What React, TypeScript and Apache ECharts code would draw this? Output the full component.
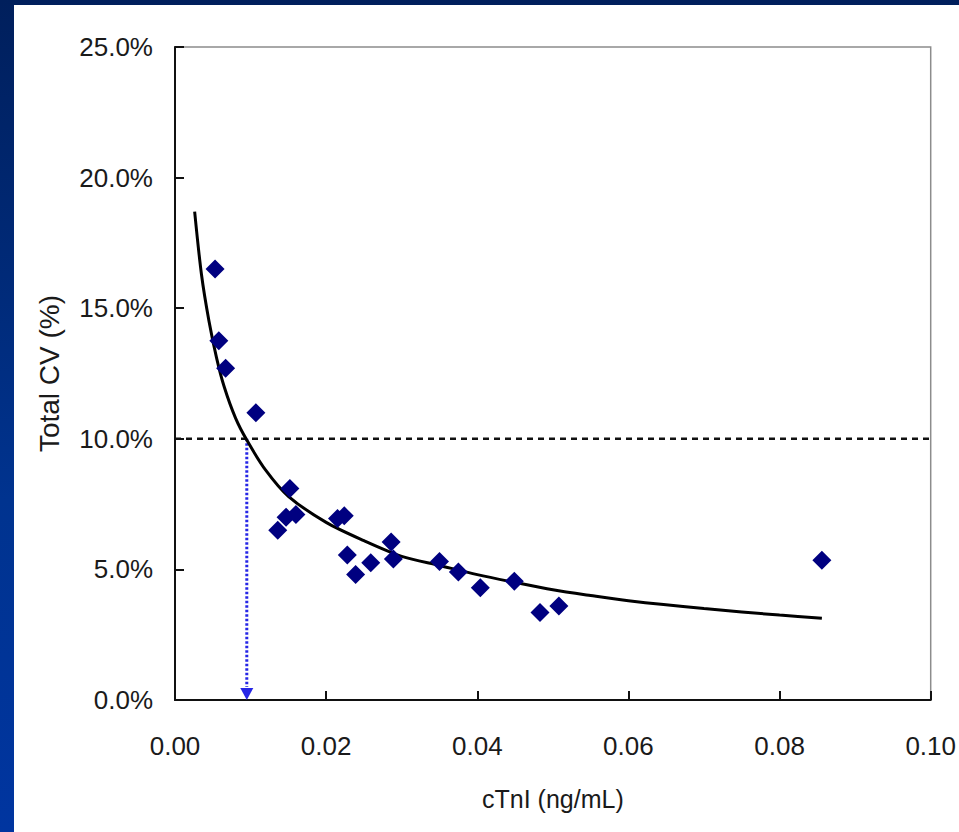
import React, { useEffect, useRef } from "react";
import * as echarts from "echarts";

const xTicks = [0, 0.02, 0.04, 0.06, 0.08, 0.1];
const yTicks = [0, 5, 10, 15, 20, 25];

// measured points: cTnI (ng/mL) vs total CV (%)
const pointX = [0.0053, 0.0058, 0.0067, 0.0107, 0.0152, 0.0136, 0.0147, 0.016, 0.0215, 0.0224, 0.0228, 0.0239, 0.0259, 0.0286, 0.0289, 0.035, 0.0375, 0.0404, 0.0449, 0.0483, 0.0508, 0.0856];
const pointY = [16.5, 13.75, 12.7, 11.0, 8.1, 6.5, 7.0, 7.1, 6.95, 7.05, 5.55, 4.8, 5.25, 6.05, 5.4, 5.3, 4.9, 4.3, 4.55, 3.35, 3.6, 5.35];

// fitted curve
const curveX = [0.0026, 0.0035, 0.0045, 0.0055, 0.0065, 0.008, 0.0095, 0.012, 0.015, 0.02, 0.025, 0.03, 0.035, 0.04, 0.045, 0.05, 0.055, 0.06, 0.07, 0.08, 0.0856];
const curveY = [18.7, 16.3, 14.5, 13.1, 12.0, 10.8, 9.95, 8.8, 7.8, 6.8, 6.1, 5.5, 5.15, 4.8, 4.5, 4.22, 4.0, 3.8, 3.5, 3.25, 3.13];

const cvLimit = 10;
const lodX = 0.0095;

const FONT = "'Liberation Sans', Arial, sans-serif";

export default function App() {
  const ref = useRef<HTMLDivElement>(null);
  useEffect(() => {
    document.body.style.margin = "0";
    const chart = echarts.init(ref.current!, null, { renderer: "svg" });
    chart.setOption({
      animation: false,
      backgroundColor: "transparent",
      grid: { left: 175, right: 24, top: 47, bottom: 132, show: true, borderColor: "#8c8c8c", borderWidth: 1.5 },
      xAxis: {
        type: "value",
        min: xTicks[0],
        max: xTicks[xTicks.length - 1],
        interval: 0.02,
        name: "cTnI (ng/mL)",
        nameLocation: "middle",
        nameGap: 86,
        nameTextStyle: { fontFamily: FONT, fontSize: 25, color: "#1a1a1a" },
        axisLine: { onZero: false, lineStyle: { color: "#111", width: 2 } },
        axisTick: { inside: true, length: 9, lineStyle: { color: "#111", width: 2 } },
        axisLabel: { margin: 33, fontFamily: FONT, fontSize: 26, color: "#1a1a1a", formatter: (v: number) => v.toFixed(2) },
        splitLine: { show: false },
      },
      yAxis: {
        type: "value",
        min: yTicks[0],
        max: yTicks[yTicks.length - 1],
        interval: 5,
        name: "Total CV (%)",
        nameLocation: "middle",
        nameGap: 112,
        nameTextStyle: { fontFamily: FONT, fontSize: 28, color: "#1a1a1a" },
        axisLine: { onZero: false, lineStyle: { color: "#111", width: 2 } },
        axisTick: { inside: true, length: 9, lineStyle: { color: "#111", width: 2 } },
        axisLabel: { margin: 22, fontFamily: FONT, fontSize: 26, color: "#1a1a1a", formatter: (v: number) => v.toFixed(1) + "%" },
        splitLine: { show: false },
      },
      series: [
        {
          type: "line",
          data: [[xTicks[0], cvLimit], [xTicks[xTicks.length - 1], cvLimit]],
          symbol: "none",
          lineStyle: { color: "#111", width: 2.5, type: [6, 5] },
          z: 2,
        },
        {
          type: "line",
          data: [[lodX, cvLimit], [lodX, 0.5]],
          symbol: "none",
          lineStyle: { color: "#2626e6", width: 3, type: [2.5, 2] },
          z: 3,
        },
        {
          type: "scatter",
          data: [[lodX, 0]],
          symbol: "triangle",
          symbolRotate: 180,
          symbolSize: [13, 12],
          symbolOffset: [0, -6],
          itemStyle: { color: "#2626e6", opacity: 1 },
          z: 3,
        },
        {
          type: "line",
          data: curveX.map((x, i) => [x, curveY[i]]),
          symbol: "none",
          smooth: 0.3,
          lineStyle: { color: "#000", width: 3 },
          z: 4,
        },
        {
          type: "scatter",
          data: pointX.map((x, i) => [x, pointY[i]]),
          symbol: "diamond",
          symbolSize: 19,
          itemStyle: { color: "#000080", opacity: 1 },
          z: 5,
        },
      ],
    });
    return () => chart.dispose();
  }, []);
  return (
    <div style={{ position: "relative", width: 959, height: 832, background: "linear-gradient(180deg, #001f5c 0%, #00338f 60%, #0035a0 100%)", overflow: "hidden" }}>
      <div style={{ position: "absolute", left: 14, top: 5, right: 0, bottom: 0, background: "#fff" }} />
      <div ref={ref} style={{ position: "absolute", left: 0, top: 0, width: 959, height: 832 }} />
    </div>
  );
}
